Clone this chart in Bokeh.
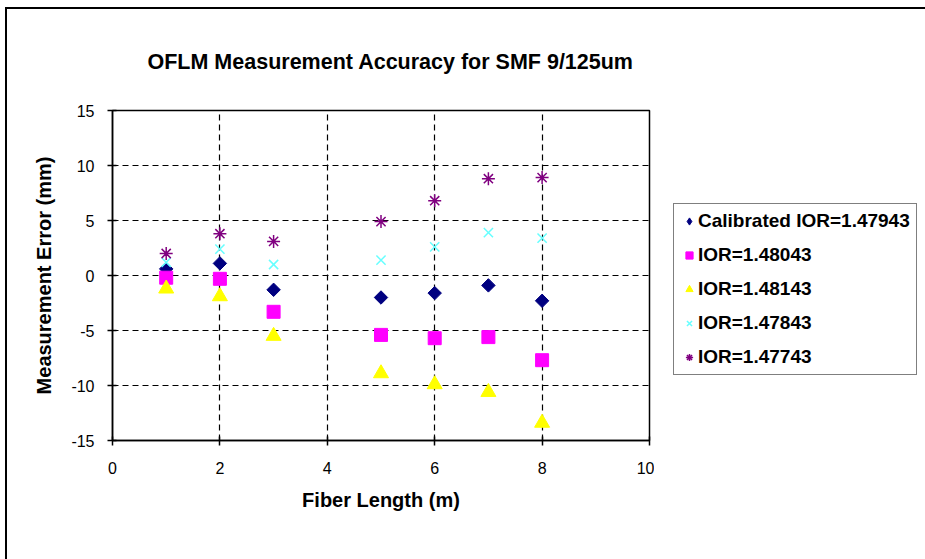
import math
from bokeh.plotting import figure
from bokeh.layouts import row
from bokeh.models import (Legend, LegendItem, FixedTicker, Range1d,
                          ColumnDataSource, CustomJSTickFormatter)
from bokeh.embed import file_html
from bokeh.resources import INLINE

# ---- data ----
fiber_length = [1, 2, 3, 5, 6, 7, 8]
calibrated_47943 = [0.6, 1.1, -1.3, -2.0, -1.6, -0.9, -2.3]
ior_48043 = [-0.2, -0.3, -3.3, -5.4, -5.7, -5.6, -7.7]
ior_48143 = [-1.2, -1.9, -5.5, -8.9, -9.9, -10.6, -13.4]
ior_47843 = [1.2, 2.4, 1.0, 1.4, 2.6, 3.9, 3.4]
ior_47743 = [2.0, 3.8, 3.1, 4.9, 6.8, 8.8, 8.9]

series_names = ["Calibrated IOR=1.47943", "IOR=1.48043", "IOR=1.48143",
                "IOR=1.47843", "IOR=1.47743"]
x_ticks = [0, 2, 4, 6, 8, 10]
y_ticks = [-15, -10, -5, 0, 5, 10, 15]

FONT = "Liberation Sans"

p = figure(width=647, height=550,
           x_range=Range1d(0, 10), y_range=Range1d(-15, 15),
           output_backend="svg", toolbar_location=None,
           min_border_left=105, min_border_right=5,
           min_border_top=101, min_border_bottom=119,
           background_fill_color="white", border_fill_color="white")

# title
p.title.text = "OFLM Measurement Accuracy for SMF 9/125um"
p.title.text_font = FONT
p.title.text_font_size = "21.5px"
p.title.text_font_style = "bold"
p.title.align = "left"
p.title.offset = 35
p.title.standoff = 73
p.title.text_color = "black"

# frame
p.outline_line_color = "black"
p.outline_line_width = 1.5

fmt = CustomJSTickFormatter(code="return tick.toString();")

# axes
for ax in (p.xaxis[0], p.yaxis[0]):
    ax.axis_line_color = "black"
    ax.axis_line_width = 1.5
    ax.major_tick_line_color = "black"
    ax.major_tick_line_width = 1.5
    ax.major_tick_in = 4
    ax.major_tick_out = 5
    ax.minor_tick_line_color = None
    ax.formatter = fmt
    ax.major_label_text_font = FONT
    ax.major_label_text_font_size = "16px"
    ax.major_label_text_color = "black"
    ax.axis_label_text_font = FONT
    ax.axis_label_text_font_size = "20px"
    ax.axis_label_text_font_style = "bold"
    ax.axis_label_text_color = "black"

p.xaxis.ticker = FixedTicker(ticks=x_ticks, minor_ticks=[])
p.yaxis.ticker = FixedTicker(ticks=y_ticks, minor_ticks=[])
p.xaxis.axis_label = "Fiber Length (m)"
p.yaxis.axis_label = "Measurement Error (mm)"
p.xaxis.major_label_standoff = 16
p.yaxis.major_label_standoff = 13
p.xaxis.axis_label_standoff = 12
p.yaxis.axis_label_standoff = 13

# grid
for g in (p.xgrid[0], p.ygrid[0]):
    g.grid_line_color = "black"
    g.grid_line_dash = "6 4"
    g.grid_line_width = 1.2
p.xgrid.ticker = FixedTicker(ticks=x_ticks, minor_ticks=[])
p.ygrid.ticker = FixedTicker(ticks=y_ticks, minor_ticks=[])

src = ColumnDataSource(dict(x=fiber_length, a=calibrated_47943, b=ior_48043,
                            c=ior_48143, d=ior_47843, e=ior_47743))

styles = [
    dict(y="a", marker="square", angle=math.pi / 4, size=9.5,
         fill_color="#000080", line_color="#000080"),
    dict(y="b", marker="square", size=13,
         fill_color="#FF00FF", line_color="#FF00FF"),
    dict(y="c", marker="triangle", size=15,
         fill_color="#FFFF00", line_color="#FFFF00"),
    dict(y="d", marker="x", size=13, line_color="#66FFFF", line_width=1.5),
    dict(y="e", marker="asterisk", size=13, line_color="#800080", line_width=1.5),
]
renderers = [p.scatter(x="x", source=src, **s) for s in styles]

# ---- legend panel (second canvas to the right of the plot) ----
pl = figure(width=271, height=550, title=None,
            x_range=Range1d(100, 101), y_range=Range1d(100, 101),
            x_axis_type=None, y_axis_type=None,
            output_backend="svg", toolbar_location=None,
            min_border=0, outline_line_color=None,
            background_fill_color="white", border_fill_color="white")
pl.xgrid.visible = False
pl.ygrid.visible = False
legend_styles = [dict(s) for s in styles]
legend_styles[0].pop("angle")
legend_styles[0]["marker"] = "diamond"
legend_renderers = [pl.scatter(x="x", source=src, **s) for s in legend_styles]

legend = Legend(items=[LegendItem(label=n, renderers=[r])
                       for n, r in zip(series_names, legend_renderers)],
                location=(19, 65))
legend.border_line_color = "black"
legend.border_line_width = 1.5
legend.background_fill_color = "white"
legend.background_fill_alpha = 1
legend.label_text_font = FONT
legend.label_text_font_size = "19px"
legend.label_text_font_style = "bold"
legend.label_text_color = "black"
legend.padding = 6
legend.spacing = 12
legend.glyph_width = 18
legend.glyph_height = 22
legend.label_height = 22
legend.label_standoff = 0
legend.margin = 0
pl.add_layout(legend)

layout = row(p, pl, spacing=0)
layout.styles = {"border-left": "2px solid black", "border-top": "2px solid black",
                 "margin-left": "5px", "margin-top": "7px"}

open("out.html", "w").write(file_html(layout, INLINE))
